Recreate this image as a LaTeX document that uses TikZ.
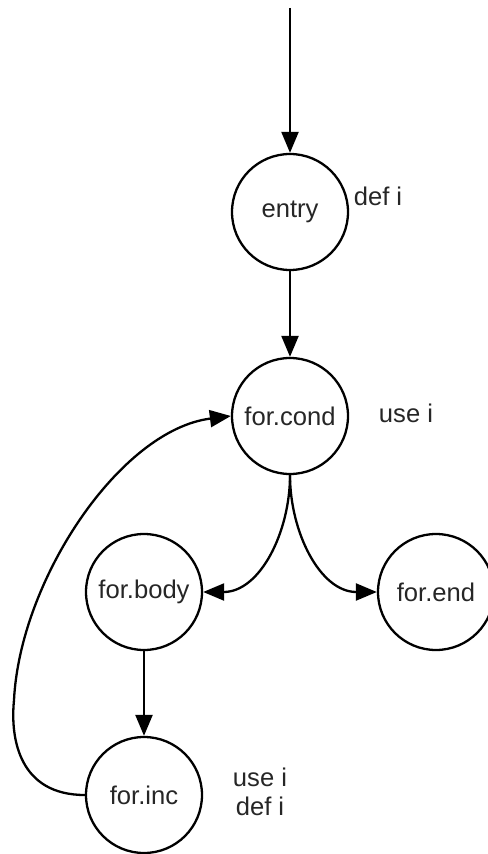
\documentclass[tikz,border=0pt]{standalone}
\usepackage{fontspec}
\setmainfont{Liberation Sans}
\usetikzlibrary{arrows.meta}
\begin{document}
\begin{tikzpicture}[x=0.5pt,y=-0.5pt,
  block/.style={draw=black,line width=1.15pt,circle,minimum size=58pt,inner sep=0pt,
    font=\fontsize{12.8pt}{15pt}\selectfont,text=black!85},
  note/.style={font=\fontsize{12.8pt}{14.5pt}\selectfont,text=black!85,align=center},
  flow/.style={line width=1.15pt,-{Triangle[length=10.5pt,width=8.5pt]}}]
\useasboundingbox (0,0) rectangle (487,854);

% basic blocks of the loop
\node[block] (entry) at (290,212) {entry};
\node[block] (cond)  at (290,416) {for.cond};
\node[block] (body)  at (144,592) {for.body};
\node[block] (fend)  at (436,592) {for.end};
\node[block] (inc)   at (144,795) {for.inc};

% def/use annotations
\node[note] (nentry) at (378,196) {def i};
\node[note] (ncond)  at (406,413) {use i};
\node[note] (ninc)   at (260,792) {use i\\def i};

% control flow
\coordinate (start) at (290,8);
\draw[flow] (start) -- (entry);
\draw[flow] (entry) -- (cond);
\draw[flow] (cond.south) to[out=-90,in=0] (body.east);
\draw[flow] (cond.south) to[out=-90,in=180] (fend.west);
\draw[flow] (body) -- (inc);
\draw[flow] (inc.west) .. controls (20,795) and (10,740) .. (14,700)
  .. controls (20,580) and (120,430) .. (cond.west);
\end{tikzpicture}
\end{document}
